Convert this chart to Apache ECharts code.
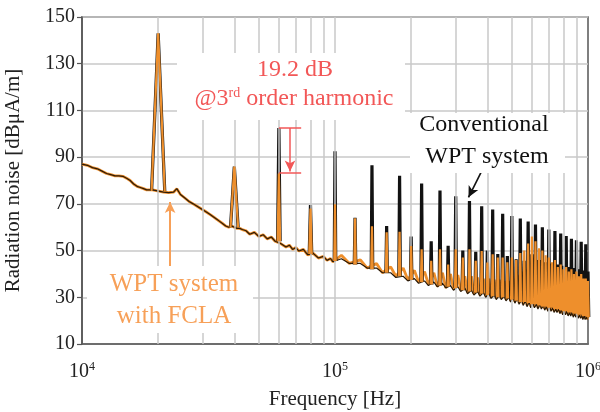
<!DOCTYPE html>
<html><head><meta charset="utf-8">
<script src="https://cdn.jsdelivr.net/npm/echarts@6/dist/echarts.min.js"></script>
<style>html,body{margin:0;padding:0;background:#fff}#c{width:600px;height:412px}</style>
</head><body><div id="c"></div>
<script>
// ---------- data ----------
// broadband noise floor, frequency in kHz
const noiseFreqKHz = [10,10.5,11,11.5,12,12.5,13,13.5,14,14.5,15,15.5,16,16.5,17,17.5,18,18.5,19,21,22,23,23.7,24.5,25.5,26.5,27.5,28.5,30,31,32,33,34,35,36,37,38,39,41,42,43,44.5,46,48,50,52,54,56,58,59,61,62,64,66,68,70,72,75,78,82,86,90,93,96,98,
 106,114,126,134,146,154,166,174,186,194,
 206,214,226,234,246,254,266,274,286,294,
 306,314,326,334,346,354,366,374,386,394,
 406,414,426,434,446,454,466,474,486,494,
 506,514,526,534,546,554,566,574,586,594,
 606,614,626,634,646,654,666,674,686,694,
 706,714,726,734,746,754,766,774,786,794,
 806,814,826,834,846,854,866,874,886,894,
 906,914,926,934,946,954,966,974,986,994];
const noiseConventional = [87,86.5,85.5,85,84,83,82.5,82,82,81.8,81,80,78.5,77.5,77,76.5,76,76,76,75,74.8,75,76.5,74,72.5,71,70,69,67.5,66.5,65.5,64.5,63.5,62.5,61.5,60.5,60,60.5,59.5,59.5,59,58.5,57,57.8,56,56.8,55,55.8,54,54.8,53,53.8,51.5,52.3,50.5,51.3,49.8,50.5,48.2,48.8,46.8,47.5,45.8,46.6,45.2,
 46.5,44.5,44.5,42.5,42.5,40.5,40.5,38.5,39,37,
 38,36,37,35,36.5,34.5,36,34,35,33,
 34.5,32.5,34,31.5,33,31,32.5,30.5,32,30,
 31.5,29.5,31,29,31,29,30.5,28.5,30,28,
 30,27.5,29.5,27,29,26.5,28.5,26,28,25.5,
 27.5,25.5,27,25,27,25,26.5,24.5,26,24,
 26,24,25.5,23.5,25,23.5,25,23,24.5,22.5,
 24,22.5,24,22,23.5,22,23.5,21.5,23,21.5,
 22.5,21,22.5,21,22,20.5,22,20.5,21.5,20.5];
const noiseFCLA = [87,86.5,85.5,85,84,83,82.5,82,82,81.8,81,80,78.5,77.5,77,76.5,76,76,76,75,74.8,75,76.5,74,72.5,71,70,69,67.5,66.5,65.5,64.5,63.5,62.5,61.5,60.5,60,60.5,59.5,59.5,59,58.5,57,57.8,56,56.8,55,55.8,54,54.8,53,53.8,51.5,52.3,50.5,51.3,49.8,50.5,48.2,48.8,46.8,47.5,45.8,46.6,45.2,
 48,44.5,46,42.5,44.5,40.5,43,39,42.5,37.5,
 41.5,36.5,41,35.5,40.5,34.5,40.5,34,40,33.5,
 39.5,33,39,32,39,31.5,38.5,31,38,30.5,
 38,30,37.5,29.5,37.5,29.5,37,29,37,28.5,
 38,28,39.5,27.5,41,27,42,26.5,43.5,26,
 44,26,43,25.5,42,25.5,41,25,40,24.5,
 39,24.5,38,24,37,24,36,23.5,35,23,
 34.5,23,34,22.5,33,22.5,32.5,22,32,22,
 31,21.5,30.5,21.5,30,21,29,21,28.5,20.5];

// switching harmonics (20 kHz fundamental), kHz
const harmFreqKHz = [20,40,60,80,100,120,140,160,180,200,220,240,260,280,300,320,340,360,380,400,420,440,460,480,500,520,540,560,580,600,620,640,660,680,700,720,740,760,780,800,820,840,860,880,900,920,940,960,980,1000];
const harmFoot = [75.5,60,54,48.5,45.5,44,42,40.5,39,37.5,36.5,35.5,35,34.5,34,33,32.5,32,31.5,31,30.5,30,30,29.5,29,28.5,28,28,27.5,27,27,26.5,26,26,25.5,25.5,25,25,24.5,24,24,23.5,23.5,23,23,22.5,22.5,22,22,21.5];
const harmConventional = [143,86,102.5,69.5,92.5,64,86.5,60.5,82,56,78.7,54,75.7,52,73.3,50,71.2,49.5,69,50,67.6,48.5,65.8,47.7,64.8,46.3,63.7,45.6,62.4,48.4,61.2,46,60,45,59,44.5,58.4,44,57.3,43.5,56.2,43,55.1,42.5,54.4,42,53.8,41.5,52.7,41];
const harmFCLA = [143,86,83,68,69.8,63.8,60.4,57.8,58,52,50.6,45.6,50.6,44,50.6,47,50.6,45.6,49.8,44.9,48.4,47,47,45,47,46,49,50,53,56,54,51,50,48,47,45,46,43,44,42,43,41,42,40,41,39,40,38,38,37];

// axes
const yTicks = [10,30,50,70,90,110,130,150];
const xTicks = [1e4,1e5,1e6];
const gridFreqKHz = [20,30,40,50,60,70,80,90,100,200,300,400,500,600,700,800,900];

// annotations (data coordinates: [Hz, dB])
const capTop = [[60000,102.5],[73500,102.5]];
const capBottom = [[60000,83.3],[73500,83.3]];
const redArrow = [[66400,102.5],[66400,83.8]];
const blackArrow = [[380000,84],[337000,72.8]];
const orangeArrow = [[22300,42.9],[22300,70.8]];

// ---------- build ----------
const BLACK = '#121212', ORANGE = '#ee8f2c', RED = '#f25757', ORANGE_TXT = '#f7a058';
const FONT = '"Liberation Serif", "Times New Roman", serif';

function noiseData(vals){ return noiseFreqKHz.map((f,i)=>[f*1000, vals[i]]); }
function spikeData(peaks){
  const out=[];
  harmFreqKHz.forEach((f,i)=>{
    const w = i===0?0.026:(i===1?0.015:(i<4?0.005:0.003));
    const hz=f*1000;
    out.push([hz*Math.pow(10,-w), harmFoot[i]], [hz, peaks[i]], [hz*Math.pow(10,w), harmFoot[i]], '-');
  });
  return out;
}
function seg(p){ return [{coord:p[0]},{coord:p[1]}]; }

const chart = echarts.init(document.getElementById('c'), null, {renderer:'canvas'});
chart.setOption({
  animation:false,
  backgroundColor:'#fff',
  textStyle:{fontFamily:FONT},
  grid:{left:82,right:12,top:17,bottom:68,containLabel:false,outerBoundsMode:'none',
        show:true,borderColor:'#555',borderWidth:1.5,backgroundColor:'transparent'},
  xAxis:{
    type:'log', logBase:10, min:xTicks[0], max:xTicks[xTicks.length-1],
    name:'Frequency [Hz]', nameLocation:'middle', nameGap:45,
    nameTextStyle:{fontSize:21,color:'#222',fontFamily:FONT},
    axisLine:{lineStyle:{color:'#555',width:1.5}},
    axisTick:{show:false},
    splitLine:{show:false},
    axisLabel:{
      margin:17, color:'#222',
      formatter:v=>'{b|10}{s|'+Math.round(Math.log10(v))+'}',
      rich:{b:{fontSize:20,fontFamily:FONT,color:'#222',lineHeight:22},
            s:{fontSize:12,fontFamily:FONT,color:'#222',verticalAlign:'top',lineHeight:12}}
    }
  },
  yAxis:{
    type:'value', min:yTicks[0], max:yTicks[yTicks.length-1], interval:yTicks[1]-yTicks[0],
    name:'Radiation noise [dBμA/m]', nameLocation:'middle', nameGap:58, nameRotate:90,
    nameTextStyle:{fontSize:21,color:'#222',fontFamily:FONT},
    axisLine:{show:true,lineStyle:{color:'#555',width:1.5}},
    axisTick:{show:true,length:5,lineStyle:{color:'#555',width:1.2}},
    axisLabel:{fontSize:20,color:'#222',margin:7,fontFamily:FONT},
    splitLine:{show:true,lineStyle:{color:'#c8c8c8',width:1.5}}
  },
  series:[
    {type:'line', z:1, data:[], silent:true,
     markLine:{silent:true, symbol:'none', label:{show:false}, animation:false,
       lineStyle:{color:'#c8c8c8',width:1.5,type:'solid'},
       data:gridFreqKHz.map(f=>({xAxis:f*1000}))}},
    {type:'line', name:'noiseFCLA', z:2, data:noiseData(noiseFCLA), showSymbol:false, symbol:'none',
     lineStyle:{color:ORANGE,width:2.8}},
    {type:'line', name:'noiseConv', z:3, data:noiseData(noiseConventional), showSymbol:false, symbol:'none',
     lineStyle:{color:'#2a1a08',width:1.2}},
    {type:'line', name:'harmConv', z:4, data:spikeData(harmConventional), showSymbol:false, symbol:'none', connectNulls:false,
     lineStyle:{color:BLACK,width:3.2}},
    {type:'line', name:'harmFCLA', z:5, data:spikeData(harmFCLA), showSymbol:false, symbol:'none', connectNulls:false,
     lineStyle:{color:ORANGE,width:2.2}},
    {type:'line', z:6, data:[], silent:true,
     markLine:{silent:true, symbol:'none', label:{show:false}, animation:false,
       lineStyle:{color:RED,width:1.5,type:'solid'},
       data:[seg(capTop), seg(capBottom)]}},
    {type:'line', z:6, data:[], silent:true,
     markLine:{silent:true, symbol:['none','arrow'], symbolSize:[8,11], label:{show:false}, animation:false,
       lineStyle:{color:RED,width:1.5,type:'solid'},
       data:[seg(redArrow)]}},
    {type:'line', z:6, data:[], silent:true,
     markLine:{silent:true, symbol:['none','arrow'], symbolSize:[8,11], label:{show:false}, animation:false,
       lineStyle:{color:BLACK,width:1.6,type:'solid'},
       data:[seg(blackArrow)]}},
    {type:'line', z:6, data:[], silent:true,
     markLine:{silent:true, symbol:['none','arrow'], symbolSize:[8,11], label:{show:false}, animation:false,
       lineStyle:{color:ORANGE_TXT,width:2,type:'solid'},
       data:[seg(orangeArrow)]}}
  ],
  graphic:[
    {type:'rect', z:100, shape:{x:177,y:53,width:228,height:67}, style:{fill:'#fff'}},
    {type:'text', z:101, x:295, y:70, style:{text:'19.2 dB', font:'24px '+FONT, fill:RED, align:'center', verticalAlign:'middle'}},
    {type:'text', z:101, x:294, y:99, style:{text:'{n|@3}{s|rd}{n| order harmonic}', align:'center', verticalAlign:'middle',
       rich:{n:{fontSize:24,fontFamily:FONT,fill:RED,lineHeight:26}, s:{fontSize:14,fontFamily:FONT,fill:RED,verticalAlign:'top',lineHeight:14}}}},
    {type:'rect', z:100, shape:{x:410,y:113,width:155,height:60}, style:{fill:'#fff'}},
    {type:'text', z:101, x:484, y:125, style:{text:'Conventional', font:'24px '+FONT, fill:'#111', align:'center', verticalAlign:'middle'}},
    {type:'text', z:101, x:487, y:157, style:{text:'WPT system', font:'24px '+FONT, fill:'#111', align:'center', verticalAlign:'middle'}},
    {type:'rect', z:100, shape:{x:87,y:266,width:166,height:67}, style:{fill:'#fff'}},
    {type:'text', z:101, x:174, y:284, style:{text:'WPT system', font:'25px '+FONT, fill:ORANGE_TXT, align:'center', verticalAlign:'middle'}},
    {type:'text', z:101, x:174, y:316, style:{text:'with FCLA', font:'25px '+FONT, fill:ORANGE_TXT, align:'center', verticalAlign:'middle'}}
  ]
});
</script>
</body></html>
